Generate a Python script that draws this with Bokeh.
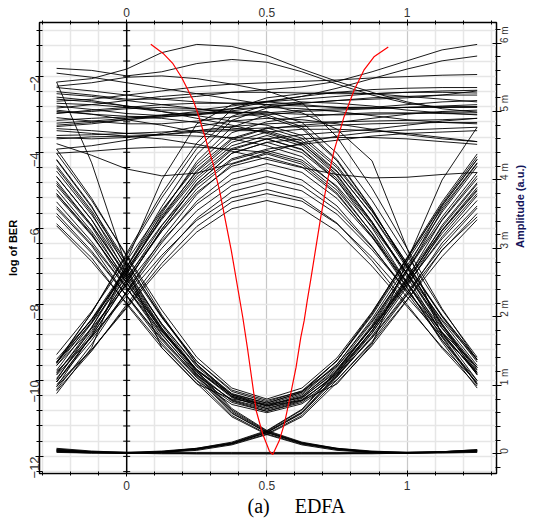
import math
from bokeh.plotting import figure
from bokeh.models import (Range1d, LinearAxis, FixedTicker, Span, Grid, Title,
                          CustomJSTickFormatter)
from bokeh.embed import file_html
from bokeh.resources import INLINE

# ---------------------------------------------------------------- data
# sampling instants of every trace, in bit periods
X_SAMPLES = [-0.25, -0.125, 0.0, 0.125, 0.25, 0.375, 0.5, 0.625, 0.75, 0.875, 1.0, 1.125, 1.25]

# amplitude traces (milli a.u.), grouped by bit pattern
ONES = [  # 1-1-1
    [5.63, 5.60, 5.52, 5.58, 5.70, 5.76, 5.72, 5.58, 5.40, 5.24, 5.12, 5.06, 5.07],
    [5.43, 5.48, 5.62, 5.86, 5.98, 5.95, 5.82, 5.62, 5.44, 5.28, 5.14, 5.04, 4.99],
    [5.29, 5.24, 5.18, 5.18, 5.22, 5.28, 5.32, 5.36, 5.44, 5.58, 5.74, 5.90, 5.98],
    [5.21, 5.16, 5.08, 5.02, 5.02, 5.08, 5.15, 5.22, 5.34, 5.48, 5.62, 5.74, 5.81],
    [5.15, 5.18, 5.24, 5.30, 5.36, 5.40, 5.42, 5.44, 5.46, 5.49, 5.51, 5.53, 5.54],
    [5.08, 5.03, 4.97, 4.94, 4.96, 5.04, 5.14, 5.22, 5.28, 5.32, 5.34, 5.35, 5.35],
    [5.05, 5.10, 5.16, 5.22, 5.26, 5.28, 5.28, 5.27, 5.26, 5.26, 5.28, 5.30, 5.31],
    [5.00, 4.96, 4.93, 4.92, 4.95, 5.01, 5.07, 5.12, 5.16, 5.20, 5.22, 5.24, 5.24],
    [4.97, 5.02, 5.06, 5.10, 5.12, 5.12, 5.10, 5.08, 5.06, 5.05, 5.06, 5.07, 5.07],
    [4.91, 4.86, 4.82, 4.82, 4.86, 4.92, 4.98, 5.02, 5.04, 5.05, 5.06, 5.06, 5.06],
    [4.83, 4.86, 4.90, 4.95, 4.98, 4.99, 4.98, 4.96, 4.95, 4.96, 4.97, 4.99, 4.99],
    [4.72, 4.68, 4.64, 4.66, 4.72, 4.78, 4.82, 4.84, 4.85, 4.86, 4.87, 4.88, 4.90],
    [4.65, 4.66, 4.68, 4.70, 4.72, 4.74, 4.76, 4.78, 4.80, 4.82, 4.83, 4.84, 4.84],
    [4.53, 4.36, 4.16, 4.06, 4.10, 4.24, 4.40, 4.54, 4.64, 4.70, 4.73, 4.75, 4.77],
    [4.60, 4.63, 4.64, 4.60, 4.52, 4.42, 4.30, 4.18, 4.08, 4.03, 4.04, 4.08, 4.11],
    [4.45, 4.50, 4.58, 4.68, 4.78, 4.86, 4.90, 4.88, 4.82, 4.74, 4.66, 4.60, 4.56],
    [5.35, 5.30, 5.24, 5.18, 5.14, 5.12, 5.14, 5.18, 5.22, 5.26, 5.28, 5.28, 5.27],
    [4.78, 4.82, 4.88, 4.94, 5.00, 5.04, 5.06, 5.04, 5.00, 4.94, 4.88, 4.84, 4.82],
]
ONE_ONE_ZERO = [
    [5.37, 5.42, 5.50, 5.52, 5.48, 5.40, 5.30, 5.13, 4.63, 3.88, 3.00, 2.12, 1.37],
    [5.26, 5.22, 5.16, 5.10, 5.04, 4.98, 4.92, 4.75, 4.28, 3.57, 2.74, 1.90, 1.19],
    [5.12, 5.10, 5.06, 5.00, 4.94, 4.86, 4.80, 4.65, 4.21, 3.55, 2.78, 2.00, 1.34],
    [4.87, 4.90, 4.92, 4.90, 4.84, 4.76, 4.70, 4.54, 4.08, 3.39, 2.58, 1.76, 1.07],
    [4.75, 4.72, 4.68, 4.66, 4.64, 4.62, 4.60, 4.45, 4.02, 3.38, 2.63, 1.87, 1.23],
    [5.02, 4.96, 4.88, 4.80, 4.70, 4.60, 4.50, 4.34, 3.89, 3.22, 2.43, 1.63, 0.96],
    [4.39, 4.42, 4.46, 4.48, 4.48, 4.45, 4.40, 4.26, 3.85, 3.23, 2.50, 1.77, 1.16],
    [5.56, 5.50, 5.42, 5.34, 5.26, 5.18, 5.10, 4.98, 4.74, 4.28, 3.00, 1.72, 1.02],
    [4.80, 4.84, 4.88, 4.92, 4.96, 4.98, 5.00, 4.84, 4.39, 3.70, 2.90, 2.10, 1.41],
    [4.98, 5.00, 5.04, 5.06, 5.04, 5.00, 4.95, 4.78, 4.30, 3.58, 2.73, 1.88, 1.15],
    [4.62, 4.60, 4.62, 4.66, 4.70, 4.72, 4.72, 4.57, 4.13, 3.48, 2.71, 1.94, 1.29],
    [5.18, 5.14, 5.08, 5.00, 4.90, 4.80, 4.68, 4.53, 4.12, 3.49, 2.75, 2.01, 1.38],
]
ZERO_ONE_ONE = [
    [1.22, 1.91, 2.73, 3.54, 4.23, 4.69, 4.85, 4.92, 4.96, 4.98, 4.98, 4.97, 4.96],
    [1.08, 1.84, 2.73, 3.61, 4.37, 4.87, 5.05, 5.12, 5.16, 5.18, 5.20, 5.24, 5.30],
    [1.33, 1.97, 2.73, 3.48, 4.12, 4.55, 4.70, 4.74, 4.74, 4.72, 4.68, 4.62, 4.56],
    [0.98, 1.74, 2.63, 3.51, 4.27, 4.77, 4.95, 5.00, 5.02, 5.04, 5.06, 5.08, 5.10],
    [1.32, 2.06, 2.93, 3.80, 4.54, 5.03, 5.20, 5.26, 5.28, 5.26, 5.22, 5.18, 5.14],
    [1.10, 1.77, 2.55, 3.33, 4.00, 4.44, 4.60, 4.66, 4.70, 4.74, 4.80, 4.86, 4.90],
    [0.88, 1.55, 2.82, 4.00, 4.82, 5.10, 5.14, 5.10, 5.06, 5.06, 5.10, 5.14, 5.16],
    [1.38, 1.96, 2.65, 3.34, 3.92, 4.31, 4.45, 4.52, 4.58, 4.64, 4.68, 4.70, 4.72],
    [1.16, 1.85, 2.65, 3.45, 4.14, 4.59, 4.75, 4.80, 4.84, 4.90, 4.96, 5.00, 5.02],
    [1.34, 2.06, 2.90, 3.74, 4.46, 4.93, 5.10, 5.14, 5.12, 5.08, 5.02, 4.98, 4.95],
    [1.05, 1.72, 2.50, 3.28, 3.95, 4.39, 4.55, 4.60, 4.62, 4.62, 4.60, 4.56, 4.52],
]
ZERO_ONE_ZERO = [
    [1.01, 1.52, 2.13, 2.73, 3.24, 3.58, 3.70, 3.58, 3.25, 2.74, 2.15, 1.56, 1.05],
    [1.20, 1.71, 2.31, 2.90, 3.41, 3.74, 3.86, 3.73, 3.37, 2.82, 2.18, 1.54, 0.99],
    [0.92, 1.50, 2.18, 2.86, 3.44, 3.83, 3.96, 3.84, 3.50, 2.98, 2.38, 1.78, 1.26],
    [1.29, 1.83, 2.47, 3.11, 3.65, 4.01, 4.14, 4.00, 3.62, 3.03, 2.35, 1.66, 1.07],
    [1.05, 1.66, 2.37, 3.08, 3.69, 4.10, 4.24, 4.11, 3.73, 3.16, 2.50, 1.83, 1.26],
    [1.33, 1.91, 2.58, 3.25, 3.82, 4.20, 4.33, 4.19, 3.79, 3.18, 2.48, 1.77, 1.16],
    [1.18, 1.80, 2.53, 3.25, 3.87, 4.29, 4.43, 4.29, 3.91, 3.32, 2.64, 1.96, 1.37],
    [1.05, 1.72, 2.50, 3.28, 3.95, 4.39, 4.55, 4.40, 3.99, 3.36, 2.63, 1.89, 1.26],
    [1.29, 1.93, 2.69, 3.44, 4.08, 4.50, 4.65, 4.50, 4.06, 3.39, 2.62, 1.84, 1.17],
    [1.45, 2.08, 2.82, 3.56, 4.19, 4.61, 4.76, 4.61, 4.18, 3.54, 2.78, 2.02, 1.38],
    [1.15, 1.70, 2.35, 3.00, 3.55, 3.92, 4.05, 3.92, 3.56, 3.02, 2.38, 1.74, 1.19],
    [0.94, 1.60, 2.37, 3.14, 3.79, 4.23, 4.38, 4.23, 3.81, 3.17, 2.42, 1.66, 1.02],
    [1.34, 1.96, 2.69, 3.42, 4.04, 4.46, 4.60, 4.44, 3.99, 3.30, 2.50, 1.70, 1.01],
    [0.98, 1.52, 2.15, 2.78, 3.32, 3.68, 3.80, 3.69, 3.36, 2.87, 2.29, 1.71, 1.22],
]
ONE_ZERO_ONE = [
    [4.39, 3.70, 2.90, 2.10, 1.41, 0.96, 0.80, 0.96, 1.40, 2.07, 2.85, 3.63, 4.30],
    [4.21, 3.55, 2.78, 2.01, 1.35, 0.91, 0.76, 0.92, 1.36, 2.02, 2.81, 3.59, 4.25],
    [4.05, 3.42, 2.66, 1.90, 1.27, 0.86, 0.72, 0.88, 1.31, 1.94, 2.68, 3.41, 4.02],
    [3.86, 3.25, 2.54, 1.83, 1.22, 0.82, 0.68, 0.83, 1.27, 1.92, 2.69, 3.46, 4.11],
    [3.68, 3.10, 2.42, 1.74, 1.16, 0.78, 0.64, 0.78, 1.17, 1.77, 2.47, 3.17, 3.77],
    [3.51, 2.96, 2.31, 1.66, 1.11, 0.75, 0.62, 0.75, 1.13, 1.70, 2.36, 3.03, 3.59],
    [3.33, 2.81, 2.20, 1.59, 1.07, 0.72, 0.60, 0.73, 1.08, 1.62, 2.25, 2.88, 3.42],
    [4.29, 3.60, 2.80, 2.00, 1.31, 0.86, 0.70, 0.84, 1.24, 1.84, 2.55, 3.26, 3.86],
    [3.95, 3.34, 2.62, 1.90, 1.29, 0.88, 0.74, 0.90, 1.36, 2.04, 2.85, 3.65, 4.34],
    [3.47, 2.93, 2.31, 1.68, 1.14, 0.79, 0.66, 0.81, 1.22, 1.85, 2.58, 3.31, 3.94],
    [5.43, 4.25, 2.72, 1.55, 1.02, 0.80, 0.72, 0.82, 1.20, 1.80, 2.52, 3.22, 3.80],
    [3.80, 3.20, 2.50, 1.80, 1.22, 0.84, 0.70, 0.78, 1.02, 1.60, 2.82, 4.00, 4.77],
    [4.13, 3.49, 2.74, 1.99, 1.35, 0.93, 0.78, 0.91, 1.28, 1.84, 2.49, 3.14, 3.70],
    [3.77, 3.19, 2.50, 1.81, 1.23, 0.84, 0.70, 0.86, 1.30, 1.97, 2.75, 3.53, 4.20],
    [4.45, 3.73, 2.88, 2.03, 1.31, 0.83, 0.66, 0.79, 1.15, 1.69, 2.33, 2.97, 3.51],
    [3.61, 3.06, 2.42, 1.78, 1.23, 0.87, 0.74, 0.90, 1.36, 2.06, 2.87, 3.68, 4.38],
    [3.98, 3.34, 2.59, 1.83, 1.19, 0.77, 0.62, 0.77, 1.18, 1.80, 2.54, 3.27, 3.89],
]
ONE_ZERO_ZERO = [
    [4.30, 3.62, 2.70, 1.88, 1.22, 0.66, 0.34, 0.17, 0.08, 0.04, 0.02, 0.02, 0.03],
    [4.05, 3.42, 2.56, 1.80, 1.17, 0.62, 0.32, 0.16, 0.07, 0.03, 0.02, 0.02, 0.03],
    [3.80, 3.22, 2.42, 1.70, 1.12, 0.59, 0.31, 0.15, 0.07, 0.03, 0.01, 0.02, 0.04],
    [3.58, 3.04, 2.30, 1.62, 1.07, 0.56, 0.29, 0.14, 0.06, 0.02, 0.01, 0.02, 0.05],
    [4.18, 3.52, 2.63, 1.84, 1.20, 0.64, 0.33, 0.16, 0.08, 0.03, 0.02, 0.03, 0.06],
    [3.36, 2.86, 2.18, 1.55, 1.03, 0.54, 0.28, 0.13, 0.05, 0.02, 0.01, 0.01, 0.02],
    [3.92, 3.32, 2.49, 1.75, 1.15, 0.60, 0.31, 0.15, 0.07, 0.02, 0.01, 0.02, 0.04],
]
ZERO_ZERO_ONE = [
    [0.03, 0.02, 0.02, 0.04, 0.08, 0.16, 0.33, 0.64, 1.20, 1.86, 2.66, 3.56, 4.24],
    [0.04, 0.02, 0.01, 0.03, 0.07, 0.15, 0.32, 0.61, 1.16, 1.80, 2.56, 3.42, 4.06],
    [0.05, 0.02, 0.01, 0.03, 0.07, 0.15, 0.31, 0.59, 1.12, 1.72, 2.44, 3.26, 3.84],
    [0.03, 0.01, 0.01, 0.02, 0.06, 0.14, 0.29, 0.56, 1.08, 1.64, 2.32, 3.08, 3.62],
    [0.06, 0.03, 0.02, 0.03, 0.08, 0.17, 0.34, 0.65, 1.22, 1.88, 2.70, 3.62, 4.30],
    [0.02, 0.01, 0.01, 0.02, 0.05, 0.13, 0.28, 0.54, 1.04, 1.58, 2.24, 2.98, 3.46],
    [0.04, 0.02, 0.01, 0.02, 0.07, 0.15, 0.31, 0.60, 1.14, 1.76, 2.50, 3.34, 3.96],
]
ZEROS = [  # 0-0-0
    [0.07, 0.03, 0.01, 0.00, 0.00, 0.00, 0.00, 0.00, 0.00, 0.00, 0.01, 0.03, 0.05],
    [0.05, 0.02, 0.01, 0.01, 0.01, 0.01, 0.01, 0.01, 0.01, 0.01, 0.01, 0.02, 0.04],
    [0.06, 0.03, 0.02, 0.02, 0.02, 0.02, 0.02, 0.02, 0.02, 0.02, 0.02, 0.03, 0.06],
    [0.08, 0.04, 0.02, 0.01, 0.00, 0.00, 0.00, 0.00, 0.00, 0.01, 0.02, 0.03, 0.05],
]

# BER versus decision instant (log10)
BER_X = [0.086, 0.130, 0.165, 0.195, 0.219, 0.237, 0.254, 0.272, 0.290, 0.308, 0.331,
         0.373, 0.414, 0.432, 0.462, 0.485, 0.509, 0.521, 0.544, 0.562, 0.580, 0.604,
         0.621, 0.633, 0.644, 0.656, 0.692, 0.716, 0.740, 0.775, 0.811, 0.846, 0.882, 0.933]
BER_LOG = [-1.16, -1.40, -1.67, -2.02, -2.37, -2.63, -2.98, -3.42, -3.86, -4.30, -5.00,
           -6.58, -8.34, -9.22, -10.80, -11.41, -11.86, -11.95, -11.59, -11.15, -10.53, -9.66,
           -8.87, -8.43, -7.90, -7.37, -5.71, -4.74, -3.95, -3.07, -2.37, -1.84, -1.49, -1.23]

# ticks
TIME_TICKS = [0, 0.5, 1]
TIME_MINOR = [round(-0.3 + 0.1 * i, 1) for i in range(17)]
LOG_TICKS = [-12, -10, -8, -6, -4, -2]
LOG_MINOR = [round(-12.4 + 0.4 * i, 1) for i in range(30)]
AMP_TICKS = [0, 1, 2, 3, 4, 5, 6]
AMP_MINOR = [round(-0.2 + 0.2 * i, 1) for i in range(33)]

CAPTION = "(a)\u00a0\u00a0\u00a0\u00a0\u00a0EDFA"

# ---------------------------------------------------------------- figure
p = figure(width=534, height=518, output_backend="svg", toolbar_location=None,
           x_range=Range1d(-0.311, 1.319), y_range=Range1d(-12.45, -0.586),
           x_axis_location=None, y_axis_location=None,
           min_border_left=39, min_border_right=36, min_border_top=22,
           min_border_bottom=45)
p.extra_y_ranges = {"amp": Range1d(-0.288, 6.30)}
p.background_fill_color = "white"
p.border_fill_color = "white"
p.outline_line_color = "black"
p.outline_line_width = 1.5
p.xgrid.visible = False
p.ygrid.visible = False

GRID = "#e6e6e6"
p.add_layout(Grid(dimension=0, ticker=FixedTicker(ticks=[t for t in TIME_MINOR if t != 0]),
                  grid_line_color=GRID, grid_line_width=1.5))
p.add_layout(Grid(dimension=0, ticker=FixedTicker(ticks=[0.5, 1.0]),
                  grid_line_color="#c8c8c8", grid_line_width=1))
p.add_layout(Grid(dimension=1, ticker=FixedTicker(ticks=LOG_MINOR),
                  grid_line_color=GRID, grid_line_width=1.5))

FONT = "Liberation Sans"


def style(ax, fs):
    ax.major_label_text_font = FONT
    ax.major_label_text_font_size = fs
    ax.major_label_text_color = "#333333"
    ax.axis_label_text_font = FONT
    ax.axis_label_text_font_style = "bold"
    ax.axis_label_text_font_size = "11px"
    ax.axis_line_color = "black"
    ax.major_tick_line_color = "black"
    ax.minor_tick_line_color = "black"


bottom = LinearAxis(ticker=FixedTicker(ticks=TIME_TICKS, minor_ticks=TIME_MINOR))
top = LinearAxis(ticker=FixedTicker(ticks=TIME_TICKS, minor_ticks=TIME_MINOR))
for ax in (bottom, top):
    style(ax, "12px")
    ax.major_tick_in = 3
    ax.major_tick_out = 3
    ax.minor_tick_in = 2
    ax.minor_tick_out = 2
bottom.major_label_standoff = 4
top.major_label_standoff = 3
p.add_layout(bottom, "below")
p.add_layout(top, "above")

left = LinearAxis(ticker=FixedTicker(ticks=LOG_TICKS, minor_ticks=LOG_MINOR),
                  axis_label="log of BER")
style(left, "13px")
left.major_label_orientation = math.pi / 2
left.major_tick_in = 4
left.major_tick_out = 4
left.minor_tick_in = 3
left.minor_tick_out = 3
left.major_label_standoff = 1
left.axis_label_standoff = 4
left.axis_label_text_color = "black"
p.add_layout(left, "left")

right = LinearAxis(y_range_name="amp",
                   ticker=FixedTicker(ticks=AMP_TICKS, minor_ticks=AMP_MINOR),
                   axis_label="Amplitude (a.u.)",
                   formatter=CustomJSTickFormatter(
                       code="return tick == 0 ? '0' : tick.toFixed(0) + ' m';"))
style(right, "10px")
right.major_label_orientation = math.pi / 2
if "axis_label_orientation" in right.properties():
    right.axis_label_orientation = math.pi / 2
right.major_tick_in = 4
right.major_tick_out = 5
right.minor_tick_in = 1
right.minor_tick_out = 4
right.major_label_standoff = 3
right.axis_label_standoff = 1
right.axis_label_text_color = "#14145a"
p.add_layout(right, "right")

# caption under the x axis
p.add_layout(Title(text=CAPTION, align="left", offset=208, standoff=0,
                   text_font="Liberation Serif", text_font_size="20px",
                   text_font_style="normal", text_color="black"), "below")

# zero-time reference line with its own tick marks
p.add_layout(Span(location=0, dimension="height", line_color="black", line_width=1.5))
p.scatter(x=[0.0] * len(LOG_MINOR), y=LOG_MINOR, marker="dash", size=7,
          line_color="black", line_width=1)

# eye diagram traces
traces = (ONES + ONE_ONE_ZERO + ZERO_ONE_ONE + ZERO_ONE_ZERO + ONE_ZERO_ONE
          + ONE_ZERO_ZERO + ZERO_ZERO_ONE + ZEROS)
p.multi_line(xs=[X_SAMPLES] * len(traces), ys=traces, y_range_name="amp",
             line_color="black", line_width=1, line_alpha=0.9)

# BER curve
p.line(BER_X, BER_LOG, line_color="red", line_width=1.2)

open("out.html", "w").write(file_html(p, INLINE))
